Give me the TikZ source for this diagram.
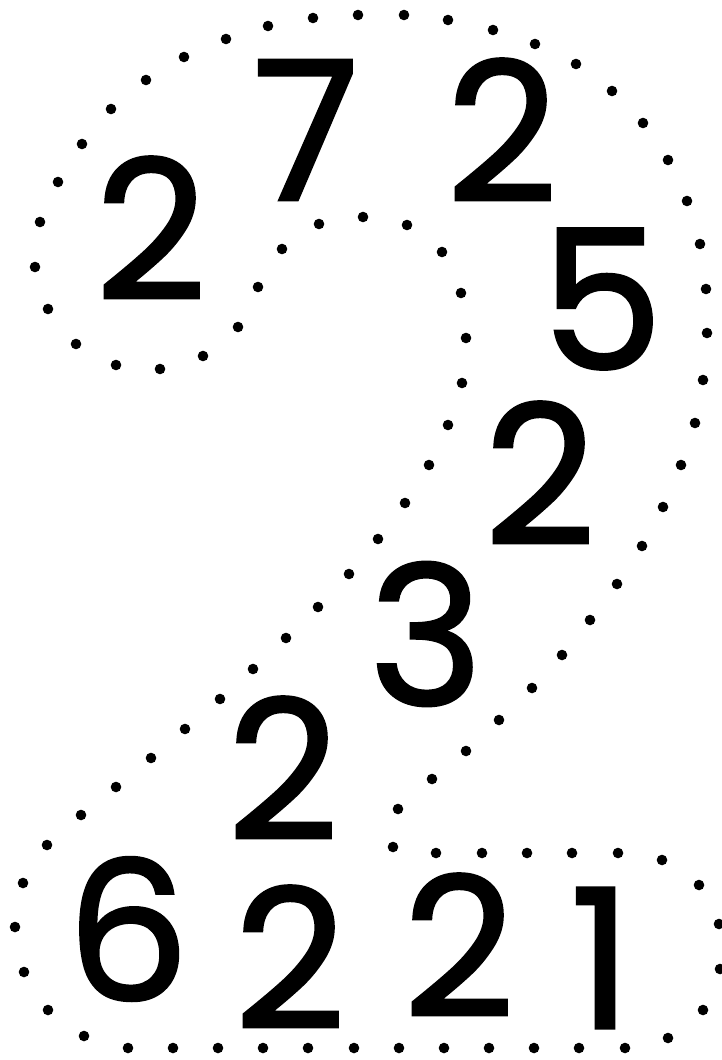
\documentclass[tikz,border=0pt]{standalone}
\usepackage{fontspec}
\setmainfont{Poppins}
\newfontfamily\digitfont{Poppins}[FakeBold=1.5]
\begin{document}
\begin{tikzpicture}[
    x=0.5pt, y=-0.5pt,
    digit/.style={inner sep=0pt, font=\digitfont\fontsize{97}{97}\selectfont},
    dot/.style={fill=black}
]
    \useasboundingbox (0,0) rectangle (722,1060);

    % Top part
    \node[digit] (twoa) at (151,228) {2};
    \node[digit] (seven) at (306,130) {7};
    \node[digit] (twob) at (502,130) {2};
    \node[digit] (five) at (602,299) {5};

    % Diagonal
    \node[digit] (twoc) at (540,473) {2};
    \node[digit] (three) at (426,634) {3};
    \node[digit] (twod) at (283,768) {2};

    % Bottom row
    \node[digit] (six) at (128,929) {6};
    \node[digit] (twoe) at (290,957) {2};
    \node[digit] (twof) at (459,945) {2};
    \node[digit] (one) at (601,958) {1};

    % Dotted outline
    \foreach \p in {(40,222),(58,182),(82,144),(111,109),(146,80),(184,57),(226,39),(268,26),
        (313,18),(358,15),(404,15),(448,20),(493,30),(535,44),(576,64),(612,91),(643,123),
        (668,160),(687,201),(700,244),(706,289),(707,333),(703,380),(695,423),(681,465),
        (663,507),(642,546),(617,584),(590,620),(562,655),(532,688),(499,720),(466,751),
        (432,779),(398,809),(393,847),(436,853),(482,853),(527,853),(572,853),(618,853),
        (662,860),(699,885),(719,924),(720,969),(703,1010),(668,1038),(625,1048),(579,1048),
        (534,1048),(489,1048),(444,1048),(399,1048),(354,1048),(308,1048),(263,1048),
        (218,1048),(173,1048),(128,1048),(84,1036),(48,1010),(24,972),(15,927),(23,883),
        (47,845),(81,815),(116,787),(151,758),(185,729),(220,699),(253,669),(286,638),
        (318,607),(349,574),(378,539),(405,503),(429,465),(448,425),(462,383),(466,338),
        (461,293),(442,252),(407,225),(363,217),(319,224),(282,249),(258,287),(238,327),
        (203,356),(160,369),(116,365),(76,344),(48,309),(35,267)}
        \fill[dot] \p circle (5.3);
\end{tikzpicture}
\end{document}
